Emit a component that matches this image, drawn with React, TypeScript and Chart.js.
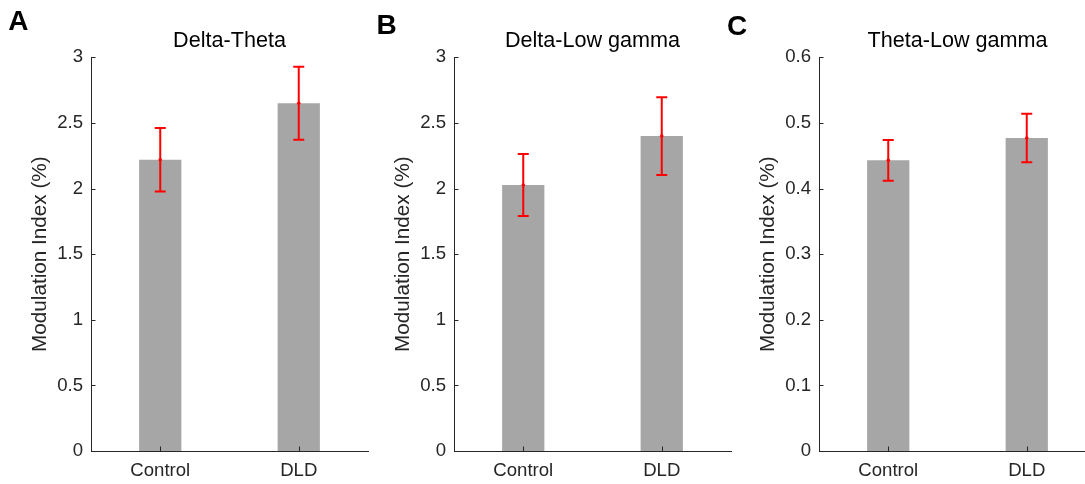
import React, { useEffect, useRef } from 'react';
import { Chart, registerables } from 'chart.js';

Chart.register(...registerables);

// ---- data ----
const categories = ['Control', 'DLD'];
const panelLetters = ['A', 'B', 'C'];
const panelTitles = ['Delta-Theta', 'Delta-Low gamma', 'Theta-Low gamma'];
const yAxisTitle = 'Modulation Index (%)';

const deltaThetaMean = [2.22, 2.65];
const deltaThetaErr = [0.242, 0.278];
const deltaLowGammaMean = [2.027, 2.4];
const deltaLowGammaErr = [0.237, 0.296];
const thetaLowGammaMean = [0.443, 0.477];
const thetaLowGammaErr = [0.031, 0.037];

const yMaxes = [3, 3, 0.6];
const yStepSizes = [0.5, 0.5, 0.1];

// ---- styling / layout ----
const FONT = '"Liberation Sans", Arial, Helvetica, sans-serif';
const AXIS_COLOR = '#262626';
const BAR_COLOR = '#a6a6a6';
const ERR_COLOR = '#ff0000';
const CANVAS_W = 372;
const CANVAS_H = 484;
const canvasLefts = [0, 363, 728];
const letterPositions: [number, number][] = [
  [8.3, 30],
  [376.5, 34.3],
  [727, 34.6],
];

type PanelProps = {
  index: number;
  means: number[];
  errs: number[];
};

function Panel({ index, means, errs }: PanelProps) {
  const ref = useRef<HTMLCanvasElement | null>(null);

  useEffect(() => {
    if (!ref.current) return;
    const left = canvasLefts[index];

    const overlayPlugin = {
      id: 'overlay' + index,
      afterDatasetsDraw(chart: any) {
        const ctx = chart.ctx as CanvasRenderingContext2D;
        const xs = chart.scales.x;
        const ys = chart.scales.y;
        const area = chart.chartArea;
        ctx.save();
        // inward tick marks (MATLAB style)
        ctx.strokeStyle = AXIS_COLOR;
        ctx.lineWidth = 1;
        ctx.beginPath();
        ys.ticks.forEach((_t: any, i: number) => {
          const py = Math.round(ys.getPixelForTick(i)) + 0.5;
          ctx.moveTo(area.left, py);
          ctx.lineTo(area.left + 4.5, py);
        });
        xs.ticks.forEach((_t: any, i: number) => {
          const px = Math.round(xs.getPixelForTick(i)) + 0.5;
          ctx.moveTo(px, area.bottom);
          ctx.lineTo(px, area.bottom - 4.5);
        });
        ctx.stroke();

        // error bars
        const meta = chart.getDatasetMeta(0);
        ctx.strokeStyle = ERR_COLOR;
        ctx.fillStyle = ERR_COLOR;
        ctx.lineWidth = 2;
        meta.data.forEach((bar: any, i: number) => {
          const x = bar.x;
          const yt = ys.getPixelForValue(means[i] + errs[i]);
          const yb = ys.getPixelForValue(means[i] - errs[i]);
          const ym = ys.getPixelForValue(means[i]);
          ctx.beginPath();
          ctx.moveTo(x, yt);
          ctx.lineTo(x, yb);
          ctx.moveTo(x - 5.5, yt);
          ctx.lineTo(x + 5.5, yt);
          ctx.moveTo(x - 5.5, yb);
          ctx.lineTo(x + 5.5, yb);
          ctx.stroke();
          ctx.beginPath();
          ctx.arc(x, ym, 1.8, 0, Math.PI * 2);
          ctx.fill();
        });
        ctx.restore();
      },
      afterDraw(chart: any) {
        const ctx = chart.ctx as CanvasRenderingContext2D;
        ctx.save();
        ctx.font = `bold 28px ${FONT}`;
        ctx.fillStyle = '#000';
        ctx.textBaseline = 'alphabetic';
        ctx.textAlign = 'left';
        const [lx, ly] = letterPositions[index];
        ctx.fillText(panelLetters[index], lx - left, ly);
        ctx.restore();
      },
    };

    const chart = new Chart(ref.current, {
      type: 'bar',
      data: {
        labels: categories,
        datasets: [
          {
            data: means,
            backgroundColor: BAR_COLOR,
            borderWidth: 0,
            categoryPercentage: 1,
            barPercentage: 0.305,
          },
        ],
      },
      options: {
        responsive: false,
        animation: false,
        devicePixelRatio: 1,
        layout: { padding: { top: 0, right: 4, bottom: 0, left: 0 } },
        plugins: {
          legend: { display: false },
          tooltip: { enabled: false },
          title: {
            display: true,
            text: panelTitles[index],
            fullSize: false,
            color: '#000',
            font: { family: FONT, size: 21.6, weight: 'normal' },
            padding: { top: 28.3, bottom: 3.1 },
          },
        },
        scales: {
          x: {
            grid: { display: false, drawTicks: false },
            border: { display: true, color: AXIS_COLOR, width: 1 },
            ticks: { color: AXIS_COLOR, font: { family: FONT, size: 18.6 }, padding: 8.6 },
            afterFit: (s: any) => {
              s.height = 33;
            },
          },
          y: {
            min: 0,
            max: yMaxes[index],
            grid: { display: false, drawTicks: false },
            border: { display: true, color: AXIS_COLOR, width: 1 },
            ticks: {
              stepSize: yStepSizes[index],
              color: AXIS_COLOR,
              font: { family: FONT, size: 18.6 },
              padding: 8,
              callback: (v: any) => String(Math.round(Number(v) * 1000) / 1000),
            },
            title: {
              display: true,
              text: yAxisTitle,
              color: AXIS_COLOR,
              font: { family: FONT, size: 20.7 },
              padding: { top: 27.6, bottom: 0 },
            },
            afterFit: (s: any) => {
              s.width = 91;
            },
          },
        },
      } as any,
      plugins: [overlayPlugin],
    });
    return () => chart.destroy();
  }, [index, means, errs]);

  return (
    <canvas
      ref={ref}
      width={CANVAS_W}
      height={CANVAS_H}
      style={{
        position: 'absolute',
        left: canvasLefts[index],
        top: 0,
        width: CANVAS_W,
        height: CANVAS_H,
      }}
    />
  );
}

export default function App() {
  return (
    <div
      style={{
        position: 'absolute',
        left: 0,
        top: 0,
        width: 1085,
        height: 484,
        overflow: 'hidden',
        background: '#fff',
      }}
    >
      <Panel index={0} means={deltaThetaMean} errs={deltaThetaErr} />
      <Panel index={1} means={deltaLowGammaMean} errs={deltaLowGammaErr} />
      <Panel index={2} means={thetaLowGammaMean} errs={thetaLowGammaErr} />
    </div>
  );
}
